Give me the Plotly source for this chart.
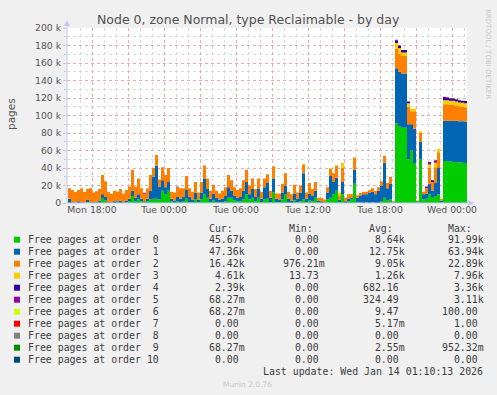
import pandas as pd
import plotly.graph_objects as go

# ---------------- data (values in thousands of pages, one sample per 15 min) ----------------
start_time = "2026-01-12 16:00"
n_samples = 134

order0 = [0,0,0,0,0,0,1,0,0,1,1,
          5,3,0,0,0,1,0,0,1,2,
          8,2,4,2,1,2,4,5,5,4,
          14,10,14,2,1,2,1,2,5,1,
          1,4,1,4,10,6,1,3,1,1,
          1,2,6,6,3,2,2,4,10,4,
          6,2,6,1,4,5,1,12,1,1,
          4,10,1,0,3,1,2,4,1,3,
          2,6,1,0,0,4,6,10,14,1,
          10,0,2,4,22,1,0.5,0,1,0,
          1,0,0,2,6,3,4,0,
          91,88,86,86,
          50,60,45,1,50,4,5,10,6,8,10,1,
          48,48,47.5,47,47,46.5,46,45.67,45.67]
order1 = [5,1,0.5,2,1,0.5,3,1,1,0.5,2,
          5,4,1,0.5,2,1,3,1,2,3,
          6,4,6,3,1,3,10,25,38,15,
          12,8,10,3,2,5,4,5,10,6,
          3,8,3,8,18,10,4,8,5,3,
          4,6,12,8,5,4,5,10,14,6,
          10,5,10,4,14,18,5,16,4,3,
          8,10,4,3,8,4,10,30,4,8,
          6,8,2,2,1,8,25,14,15,3,
          14,2,3,2,16,5,8,10,9,12,
          12,10,14,18,40,14,18,1,
          63,62,62,62,
          40,30,40,1,20,6,6,12,8,15,30,2,
          46,46,46.5,47,47,47,47.5,47.36,47.36]
order2 = [12,14,12,13,16,12,12,16,11,12,13,
          22,18,12,10,12,11,13,10,12,14,
          24,13,18,12,9,12,18,10,12,8,
          15,14,16,8,9,11,12,10,16,10,
          9,12,8,12,15,12,9,10,8,7,
          9,10,14,12,10,9,10,12,14,10,
          12,9,12,8,10,10,8,14,6,7,
          10,14,8,7,10,7,8,10,7,12,
          8,10,3,4,3,6,8,10,14,5,
          16,4,5,4,14,3,3,3,3,3,
          4,4,4,5,8,6,8,1,
          22,21,20,20,
          20,15,20,1,10,3,6,18,10,18,18,2,
          19,19,18.5,18,17.5,17,16.5,16.42,16.42]
order3 = [0,0,0,0,0,0,0,0,0,0,0,
          0,0,0,0,0,0,0,0,0,0,
          0,0,0,0,0,0,0,0,0,0,
          0,0,0,0,0,0,0,0,0,0,
          0,0,0,0,0,0,0,0,0,0,
          0,0,0,0,0,0,0,0,0,0,
          0,0,0,0,0,0,0,0,0,0,
          0,0,0,0,0,0,0,1,0,0,
          0,0,0,0,0,0,1,0,0,3,
          6,0,0,0,0,0,0,0,0,0,
          0,0,0,0,0,0,0,0,
          7,6,4,4,
          4,3,3,0,2,0,0,4,0,5,4,0,
          4.5,4.5,4.5,5,4.5,4.5,4.5,4.61,4.61]
order4 = [0,0,0,0,0,0,0,0,0,0,0,
          0,0,0,0,0,0,0,0,0,0,
          0,0,0,0,0.8,0,0,0,0,0,
          0,0,0,0,0,0.5,0,0,0,0,
          0,0,0,0,0,0,0,0,0,0,
          0,0,0,0,0,0,0,0,0,0,
          0,0,0,0,0,0,0,0,0,0,
          0,0,0,0,0,0,0,0,0,0,
          0,0,0,0,0,0,0,0,0,0,
          0,0,0,0,0,0,0,0,0,0,
          0,0,0,0,0,0,0,0,
          3,3,3,3,
          2,0,0,0,0,0,0,0,2,0,0,0,
          2.5,2.5,2.5,2.5,2.5,2.5,2.4,2.39,2.39]
order5 = [0,0,0,0,0,0,0,0,0,0,0,
          0,0,0,0,0,0,0,0,0,0,
          0,0,0,0,0,0,0,0,0,0,
          0,0,0,0,0,0,0,0,0,0,
          0,0,0,0,0,0,0,0,0,0,
          0,0,0,0,0,0,0,0,0,0,
          0,0,0,0,0,0,0,0,0,0,
          0,0,0,0,0,0,0,0,0,0,
          0,0,0,0,0,0,0,0,0,0,
          0,0,0,0,0,0,0,0,0,0,
          0,0,0,0,0,0,0,0,
          0.5,0,0,0,
          0,0,0,0,0,0,2,3,0,3,0,0,
          1.5,1,0.5,0,0,0,0,0,0]
order6 = [0.0] * n_samples
order7 = [0.0] * n_samples
order8 = [0.0] * n_samples
order9 = [0.0] * n_samples
order10 = [0.0] * n_samples

series = [order0, order1, order2, order3, order4, order5,
          order6, order7, order8, order9, order10]
colors = ["#00CC00", "#0066B3", "#FF8000", "#FFCC00", "#330099", "#990099",
          "#CCFF00", "#FF0000", "#808080", "#008F00", "#00487D"]
orders = list(range(11))

cur_vals = ["45.67k", "47.36k", "16.42k", "4.61k", "2.39k", "68.27m", "68.27m", "0.00", "0.00", "68.27m", "0.00"]
min_vals = ["0.00", "0.00", "976.21m", "13.73", "0.00", "0.00", "0.00", "0.00", "0.00", "0.00", "0.00"]
avg_vals = ["8.64k", "12.75k", "9.05k", "1.26k", "682.16", "324.49", "9.47", "5.17m", "0.00", "2.55m", "0.00"]
max_vals = ["91.99k", "63.94k", "22.89k", "7.96k", "3.36k", "3.11k", "100.00", "1.00", "0.00", "952.32m", "0.00"]

y_tick_vals = [0, 20000, 40000, 60000, 80000, 100000, 120000, 140000, 160000, 180000, 200000]
y_tick_text = ["0", "20 k", "40 k", "60 k", "80 k", "100 k", "120 k", "140 k", "160 k", "180 k", "200 k"]
x_tick_times = ["2026-01-12 18:00", "2026-01-12 21:00", "2026-01-13 00:00", "2026-01-13 03:00",
                "2026-01-13 06:00", "2026-01-13 09:00", "2026-01-13 12:00", "2026-01-13 15:00",
                "2026-01-13 18:00", "2026-01-13 21:00", "2026-01-14 00:00"]
x_tick_text = ["Mon 18:00", "", "Tue 00:00", "", "Tue 06:00", "", "Tue 12:00", "", "Tue 18:00", "", "Wed 00:00"]
x_range = ["2026-01-12 15:55", "2026-01-14 01:15"]

title_text = "Node 0, zone Normal, type Reclaimable - by day"
last_update = "Last update: Wed Jan 14 01:10:13 2026"

# ---------------- figure ----------------
W, H = 497, 395
PL, PR, PT, PB = 67, 467, 28, 203  # plot area in pixels


def px(x):
    return (x - PL) / (PR - PL)


def py(y):
    return (PB - y) / (PB - PT)


times = pd.date_range(start_time, periods=n_samples, freq="15min")

fig = go.Figure()
for n, vals, col in zip(orders, series, colors):
    fig.add_trace(go.Scatter(
        x=times, y=[v * 1000 for v in vals], mode="lines", stackgroup="one",
        line=dict(width=0, shape="hv", color=col), fillcolor=col,
        name=f"Free pages at order {n}", showlegend=False, hoverinfo="skip"))

minor_grid = "#DADADA"
major_grid = "#E9AAAA"

hour_grid = pd.date_range("2026-01-12 16:00", "2026-01-14 01:00", freq="1h")

fig.update_layout(
    width=W, height=H,
    margin=dict(l=PL, r=W - PR, t=PT, b=H - PB, pad=0),
    paper_bgcolor="#F0F0F0", plot_bgcolor="#FFFFFF",
    font=dict(family="DejaVu Sans", size=9.3, color="#555555"),
    xaxis=dict(type="date", range=x_range, tickmode="array", tickvals=x_tick_times,
               ticktext=x_tick_text, showgrid=True, gridcolor=major_grid, griddash="dot",
               gridwidth=1, zeroline=False, showline=False, ticks="", tickfont=dict(size=9.3),
               minor=dict(tickmode="array", tickvals=list(hour_grid), showgrid=True,
                          gridcolor=minor_grid, griddash="dot", gridwidth=1)),
    yaxis=dict(range=[0, 200000], tickmode="array", tickvals=y_tick_vals, ticktext=y_tick_text,
               showgrid=True, gridcolor=major_grid, griddash="dot", gridwidth=1,
               zeroline=False, showline=False, ticks="outside", ticklen=3, tickcolor="#C8C8C8",
               tickfont=dict(size=9.3),
               minor=dict(dtick=10000, showgrid=True, gridcolor=minor_grid, griddash="dot",
                          gridwidth=1, ticks="outside", ticklen=2, tickcolor="#C8C8C8")),
)

shapes = []
axis_col = "#C4C8F0"
# axes with arrows
shapes.append(dict(type="line", xref="paper", yref="paper", x0=px(67), x1=px(67), y0=py(203), y1=py(24),
                   line=dict(color=axis_col, width=1), layer="above"))
shapes.append(dict(type="path", xref="paper", yref="paper",
                   path=f"M {px(64)} {py(26)} L {px(70)} {py(26)} L {px(67)} {py(20)} Z",
                   fillcolor=axis_col, line=dict(width=0), layer="above"))
shapes.append(dict(type="line", xref="paper", yref="paper", x0=px(67), x1=px(470), y0=py(203), y1=py(203),
                   line=dict(color=axis_col, width=1), layer="above"))
shapes.append(dict(type="path", xref="paper", yref="paper",
                   path=f"M {px(468)} {py(200)} L {px(468)} {py(206)} L {px(474)} {py(203)} Z",
                   fillcolor=axis_col, line=dict(width=0), layer="above"))

annotations = []
annotations.append(dict(text=title_text, x=px(248.5), y=py(19.5), xref="paper", yref="paper",
                        xanchor="center", yanchor="middle", showarrow=False,
                        font=dict(family="DejaVu Sans", size=12.5, color="#505050")))
annotations.append(dict(text="pages", x=px(11), y=py(114), xref="paper", yref="paper", textangle=-90,
                        xanchor="center", yanchor="middle", showarrow=False,
                        font=dict(family="DejaVu Sans", size=10.5, color="#555555")))
annotations.append(dict(text="RRDTOOL / TOBI OETIKER", x=px(488), y=py(54), xref="paper", yref="paper",
                        textangle=90, xanchor="center", yanchor="middle", showarrow=False,
                        font=dict(family="DejaVu Sans", size=7, color="#C8C8C8")))

NB = "\u00a0"
mono = dict(family="DejaVu Sans Mono", size=9.9, color="#3C3C3C")
row0_y = 239.7
row_dy = 12.0
label_x = 26.7
field_x = [201.8, 281.7, 361.7, 440.7]


def field(s):
    if not s[-1].isalpha():
        s = s + " "
    return s.rjust(7).replace(" ", NB)


headers = ["Cur:", "Min:", "Avg:", "Max:"]
for hx, h in zip(field_x, headers):
    annotations.append(dict(text=(" " + h).replace(" ", NB), x=px(hx), y=py(228.3), xref="paper", yref="paper",
                            xanchor="left", yanchor="middle", showarrow=False, borderpad=0, font=mono))

for r, n in enumerate(orders):
    yc = row0_y + r * row_dy
    shapes.append(dict(type="rect", xref="paper", yref="paper", x0=px(14), x1=px(20),
                       y0=py(yc - 3), y1=py(yc + 3), fillcolor=colors[r], line=dict(width=0)))
    label = f"Free pages at order {n:>2}".replace(" ", NB)
    annotations.append(dict(text=label, x=px(label_x), y=py(yc), xref="paper", yref="paper",
                            xanchor="left", yanchor="middle", showarrow=False, borderpad=0, font=mono))
    for fx, vals in zip(field_x, [cur_vals, min_vals, avg_vals, max_vals]):
        annotations.append(dict(text=field(vals[r]), x=px(fx), y=py(yc), xref="paper", yref="paper",
                                xanchor="left", yanchor="middle", showarrow=False, borderpad=0, font=mono))

annotations.append(dict(text=last_update.replace(" ", NB), x=px(261.7), y=py(371.7), xref="paper", yref="paper",
                        xanchor="left", yanchor="middle", showarrow=False, borderpad=0, font=mono))
annotations.append(dict(text="Munin 2.0.76", x=px(247.7), y=py(384.5), xref="paper", yref="paper",
                        xanchor="center", yanchor="middle", showarrow=False,
                        font=dict(family="DejaVu Sans", size=7.5, color="#C8C8C8")))

fig.update_layout(shapes=shapes, annotations=annotations)

fig.write_html("out.html", config={"displayModeBar": False},
               post_script="document.body.style.margin='0';document.body.style.padding='0';"
                           "document.body.style.background='#F0F0F0';")
